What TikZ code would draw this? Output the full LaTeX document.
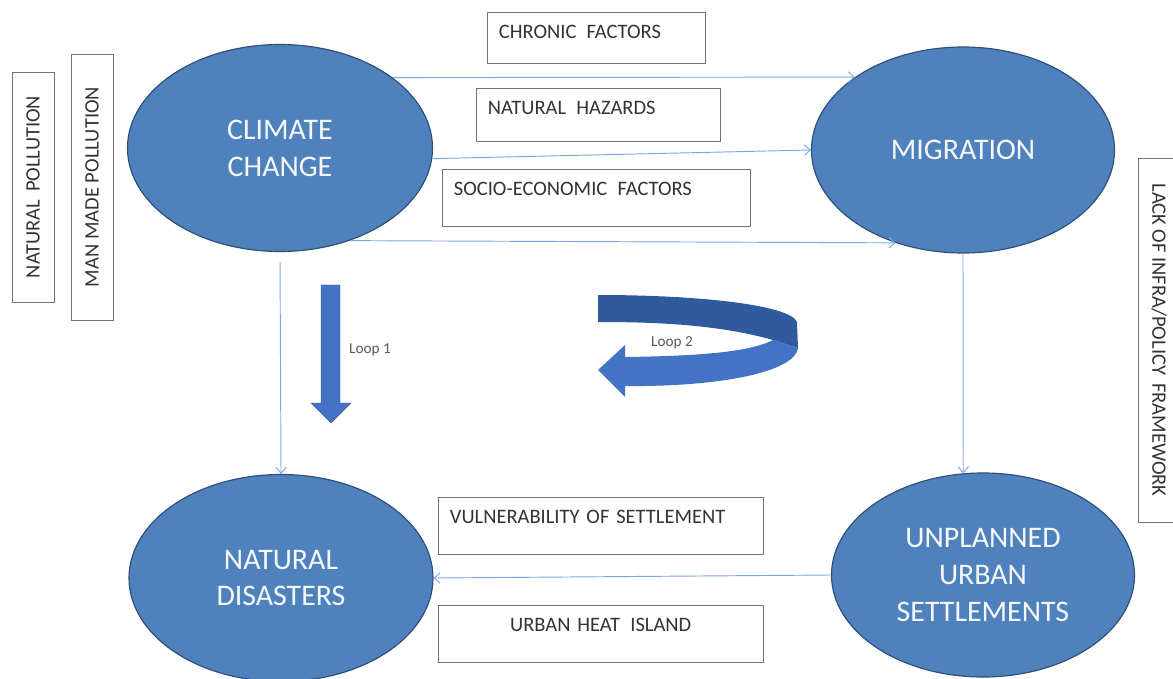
\documentclass[tikz,border=0pt]{standalone}
\usepackage{fontspec}
\setmainfont{Carlito}
\usepackage{xcolor}
\usepackage{tikz}
\usetikzlibrary{shapes.geometric, arrows.meta}
\definecolor{cellblue}{HTML}{4F81BD}
\definecolor{celledge}{HTML}{2F4F7A}
\definecolor{flowblue}{HTML}{7EA6E0}
\definecolor{loopblue}{HTML}{4472C4}
\definecolor{loopdark}{HTML}{305A9E}
\tikzstyle{bubble} = [ellipse, inner sep=0pt, align=center, draw=celledge, line width=1pt, fill=cellblue, text=white!95!cellblue, font=\fontsize{25.5}{31.5}\selectfont]
\tikzstyle{factor} = [rectangle, draw=black!55, fill=white, inner xsep=0.35cm, inner ysep=0pt, text height=0.78cm, anchor=north west, align=left, text=black!80, font=\fontsize{17.5}{20}\selectfont]
\tikzstyle{side} = [rectangle, draw=black!55, fill=white, inner sep=0pt, minimum height=1.26cm, text=black!80, font=\fontsize{17.5}{20}\selectfont]
\tikzstyle{flow} = [->, >={Straight Barb[length=5pt,width=9pt]}, draw=flowblue, line width=0.8pt]
\tikzstyle{looptext} = [text=black!65, font=\fontsize{13}{15}\selectfont]

\begin{document}
\begin{tikzpicture}[x=0.03cm, y=-0.03cm]
        \useasboundingbox (0,0) rectangle (1173,679);

        \node (cc) [bubble, minimum width=9.15cm, minimum height=6.21cm] at (280,148) {CLIMATE\\CHANGE};
        \node (mig) [bubble, minimum width=9.09cm, minimum height=6.18cm] at (963,150) {MIGRATION};
        \node (nd) [bubble, minimum width=9.12cm, minimum height=6.21cm] at (281,578) {NATURAL\\DISASTERS};
        \node (us) [bubble, minimum width=9.09cm, minimum height=6.12cm] at (983,575) {UNPLANNED\\URBAN\\SETTLEMENTS};

        \node (chronic) [factor, text width=5.84cm, text depth=0.75cm] at (487,12) {CHRONIC \,FACTORS};
        \node (hazards) [factor, text width=6.62cm, text depth=0.80cm] at (476,88) {NATURAL \,HAZARDS};
        \node (socio) [factor, text width=8.54cm, text depth=0.93cm] at (442,169) {SOCIO-ECONOMIC \,FACTORS};
        \node (vuln) [factor, text width=9.05cm, text depth=0.93cm] at (438,497) {VULNERABILITY OF SETTLEMENT};
        \node (heat) [factor, text width=9.05cm, text depth=0.93cm, align=center] at (438,605) {URBAN HEAT \,ISLAND};

        \node (natpol) [side, rotate=90, minimum width=6.9cm] at (33,187) {NATURAL \,POLLUTION};
        \node (manpol) [side, rotate=90, minimum width=7.98cm] at (92,187) {MAN MADE POLLUTION};
        \node (infra) [side, rotate=-90, minimum width=10.92cm] at (1159,340) {LACK OF INFRA/POLICY \,FRAMEWORK};

        \draw [flow] (cc.32) -- (mig.146);
        \draw [flow] (cc.-4) -- (mig.west);
        \draw [flow] (cc.-53) -- (mig.-126);
        \draw [flow, shorten <=0.3cm] (cc.south) -- (nd.north);
        \draw [flow] (mig.south) -- (us.101);
        \draw [flow] (us.west) -- (nd.east);

        % loop 1
        \fill [loopblue, draw=loopblue!85!black, line width=0.4pt] (321,285) -- (340,285) -- (340,403) -- (351,403) -- (331,423) -- (311,403) -- (321,403) -- cycle;
        \node (loopa) [looptext] at (370,350) {Loop 1};

        % loop 2
        \fill [loopdark] (598,295) .. controls (700,295) and (790,305) .. (797,322) -- (798,348) -- (773,340) .. controls (720,325) and (660,322) .. (598,322) -- cycle;
        \fill [loopblue] (773,340) -- (798,348) .. controls (795,372) and (720,387) .. (625,386) -- (625,397) -- (598,370) -- (625,345) -- (625,357) .. controls (700,356) and (750,352) .. (773,340) -- cycle;
        \node (loopb) [looptext] at (672,343) {Loop 2};
    \end{tikzpicture}
\end{document}
